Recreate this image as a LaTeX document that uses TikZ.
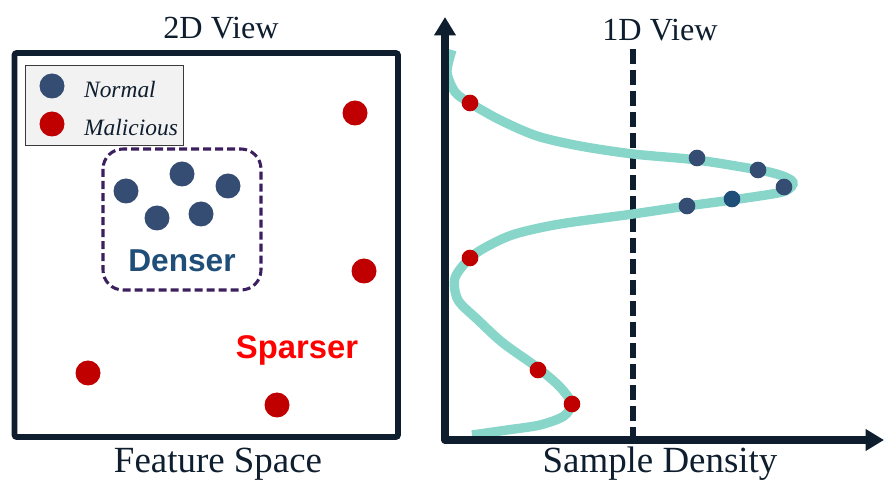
\documentclass[tikz,border=0pt]{standalone}
\usepackage{fontspec}
\setmainfont{Liberation Serif}
\setsansfont{Liberation Sans}
\usetikzlibrary{positioning,shapes,arrows.meta}
\definecolor{framecol}{HTML}{0F1E2E}
\definecolor{legendfill}{HTML}{F2F2F2}
\definecolor{legendline}{HTML}{3A3A3A}
\definecolor{normalcol}{HTML}{354C73}
\definecolor{normaldark}{HTML}{1F4E79}
\definecolor{badcol}{HTML}{C00000}
\definecolor{densecol}{HTML}{3C1F5E}
\definecolor{sparsecol}{HTML}{FF0000}
\definecolor{curvecol}{HTML}{88D6CA}

\begin{document}
\begin{tikzpicture}[
  x=0.03cm, y=-0.03cm,
  normal/.style={circle,fill=normalcol,minimum size=0.75cm,inner sep=0pt},
  malicious/.style={circle,fill=badcol,minimum size=0.75cm,inner sep=0pt},
  dnormal/.style={circle,fill=normalcol,minimum size=0.5cm,inner sep=0pt},
  dmalicious/.style={circle,fill=badcol,minimum size=0.5cm,inner sep=0pt},
  title/.style={text=framecol,font=\fontsize{27.5}{30}\selectfont},
  label/.style={text=framecol,font=\fontsize{31.5}{34}\selectfont},
  axis/.style={framecol,line width=6.3pt,line cap=round,-{Triangle[length=0.55cm,width=0.62cm]}}
]
\useasboundingbox (0,0) rectangle (885,484);

% 2D view
\draw[framecol,line width=5pt,rounded corners=2pt] (14.5,53) rectangle (398,437);
\node[title] (T2) at (221,28) {2D View};
\node[label] (FS) at (218,464) {Feature Space};

% legend
\draw[legendline,fill=legendfill,line width=0.8pt] (25,65) rectangle (183,145);
\node[normal] (Ln) at (52,86) {};
\node[malicious] (Lm) at (52,124) {};
\node[anchor=west,text=framecol,font=\fontsize{20}{22}\selectfont\itshape] (Lnt) at (80,89) {Normal};
\node[anchor=west,text=framecol,font=\fontsize{20}{22}\selectfont\itshape] (Lmt) at (80,128) {Malicious};

% dense cluster
\draw[densecol,line width=2.6pt,dash pattern=on 0.24cm off 0.12cm,rounded corners=0.6cm] (103,149) rectangle (261,290);
\node[normal] (N1) at (126,191) {};
\node[normal] (N2) at (182,174) {};
\node[normal] (N3) at (228,186) {};
\node[normal] (N4) at (157,218) {};
\node[normal] (N5) at (201,214) {};
\node[text=normaldark,font=\sffamily\bfseries\fontsize{27}{30}\selectfont] (D) at (182,261) {Denser};

% sparse points
\node[malicious] (M1) at (355,113) {};
\node[malicious] (M2) at (364,271) {};
\node[malicious] (M3) at (88,373) {};
\node[malicious] (M4) at (277,405) {};
\node[text=sparsecol,font=\sffamily\bfseries\fontsize{28}{30}\selectfont] (S) at (297,350) {Sparser};

% 1D view
\coordinate (O) at (445,440);
\coordinate (Ytop) at (445,17);
\coordinate (Xend) at (884,440);
\coordinate (Vtop) at (633,49);
\coordinate (Vbot) at (633,440);
\draw[framecol,line width=4.3pt,dash pattern=on 0.45cm off 0.18cm] (Vtop) -- (Vbot);
\draw[curvecol,line width=8pt] plot[smooth,tension=0.5] coordinates {
  (452,50) (447,72) (455,92) (470,103) (500,120) (537,136) (580,146) (633,154)
  (697,160) (759,170) (780,175) (791,180) (793,184) (789,189) (778,193) (732,200) (687,206) (633,214)
  (560,224) (515,234) (488,246) (470,258) (455,278) (458,300) (478,320) (503,343)
  (538,368) (560,387) (571,403) (564,416) (540,425) (507,430) (472,435)};
\draw[axis] (O) -- (Ytop);
\draw[axis] (O) -- (Xend);
\node[title] (T1) at (660,30) {1D View};
\node[label] (SD) at (660,464) {Sample Density};

% points on density curve
\node[dmalicious] (C1) at (470,103) {};
\node[dnormal] (C2) at (697,158) {};
\node[dnormal] (C3) at (758,170) {};
\node[dnormal] (C4) at (784,187) {};
\node[dnormal,fill=normaldark] (C5) at (732,199) {};
\node[dnormal] (C6) at (687,206) {};
\node[dmalicious] (C7) at (470,258) {};
\node[dmalicious] (C8) at (538,370) {};
\node[dmalicious] (C9) at (572,404) {};
\end{tikzpicture}
\end{document}
